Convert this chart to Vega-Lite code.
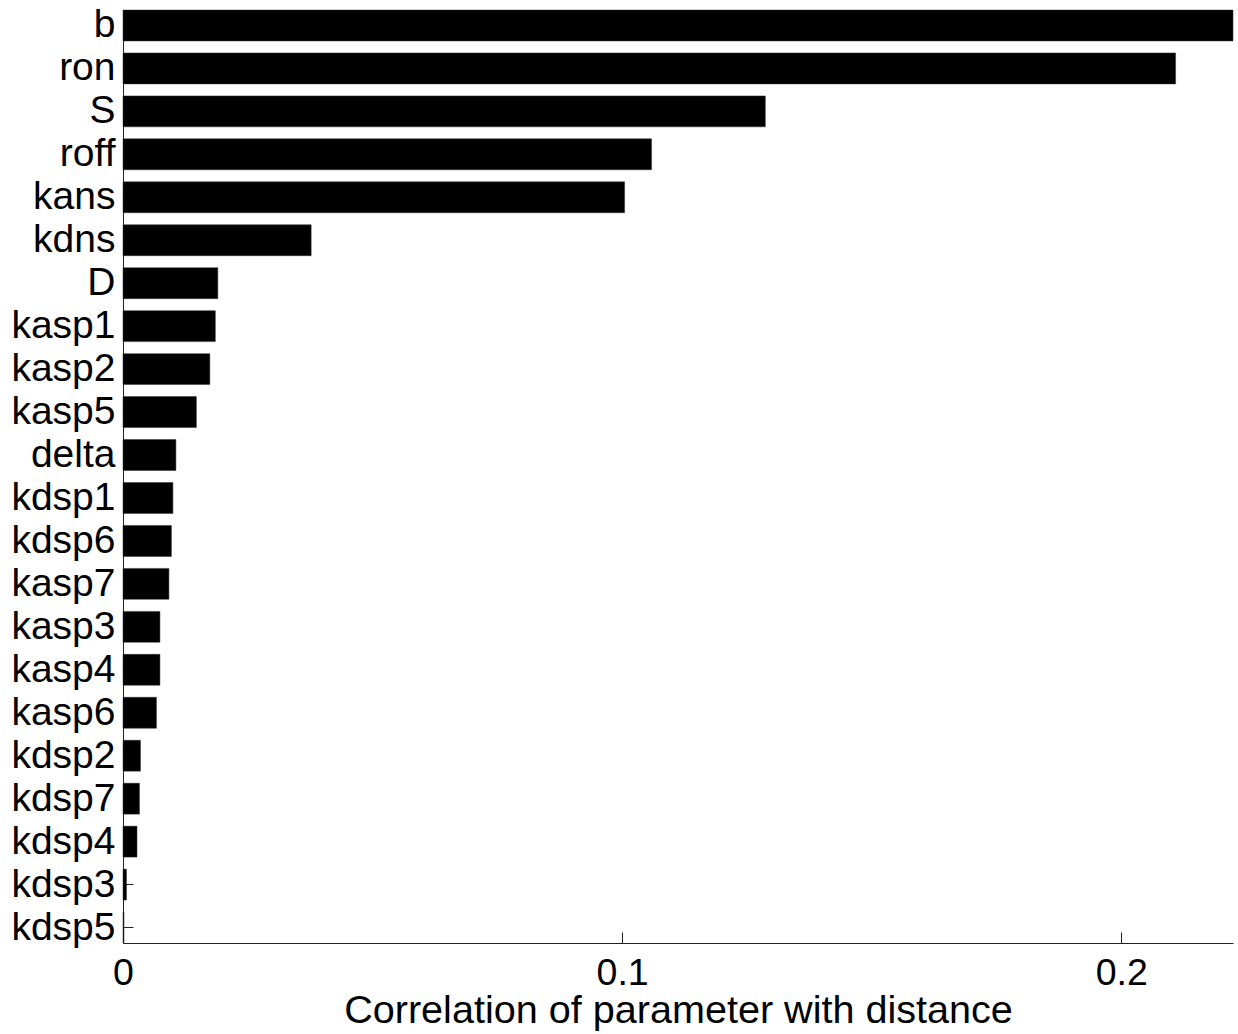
{
  "$schema": "https://vega.github.io/schema/vega-lite/v6.json",
  "width": 1110,
  "height": 933,
  "autosize": {"type": "none"},
  "padding": {"left": 123, "top": 10, "right": 5, "bottom": 91},
  "background": "white",
  "config": {
    "view": {"stroke": null},
    "font": "Liberation Sans",
    "axis": {
      "domainColor": "#222222",
      "tickColor": "#222222",
      "labelColor": "black",
      "titleColor": "black",
      "labelFont": "Liberation Sans",
      "titleFont": "Liberation Sans",
      "labelFontSize": 39,
      "titleFontSize": 39.6,
      "titleFontWeight": "normal",
      "grid": false
    }
  },
  "data": {
    "values": [
      {"parameter": "b", "corr": 0.2224},
      {"parameter": "ron", "corr": 0.2109},
      {"parameter": "S", "corr": 0.1287},
      {"parameter": "roff", "corr": 0.1059},
      {"parameter": "kans", "corr": 0.1005},
      {"parameter": "kdns", "corr": 0.0377},
      {"parameter": "D", "corr": 0.0190},
      {"parameter": "kasp1", "corr": 0.0185},
      {"parameter": "kasp2", "corr": 0.0174},
      {"parameter": "kasp5", "corr": 0.0147},
      {"parameter": "delta", "corr": 0.0106},
      {"parameter": "kdsp1", "corr": 0.0100},
      {"parameter": "kdsp6", "corr": 0.0097},
      {"parameter": "kasp7", "corr": 0.0092},
      {"parameter": "kasp3", "corr": 0.0074},
      {"parameter": "kasp4", "corr": 0.0074},
      {"parameter": "kasp6", "corr": 0.0067},
      {"parameter": "kdsp2", "corr": 0.0035},
      {"parameter": "kdsp7", "corr": 0.0033},
      {"parameter": "kdsp4", "corr": 0.0028},
      {"parameter": "kdsp3", "corr": 0.0007},
      {"parameter": "kdsp5", "corr": 0.0002}
    ]
  },
  "mark": {"type": "bar", "color": "black", "stroke": "#333333", "strokeWidth": 0.5},
  "encoding": {
    "y": {
      "field": "parameter",
      "type": "nominal",
      "sort": null,
      "scale": {"paddingInner": 0.28, "paddingOuter": 0},
      "axis": {
        "title": null,
        "tickSize": -10,
        "labelPadding": 18,
        "domainWidth": 1,
        "tickWidth": 1
      }
    },
    "x": {
      "field": "corr",
      "type": "quantitative",
      "scale": {"domain": [0, 0.2224], "nice": false, "zero": true},
      "axis": {
        "title": "Correlation of parameter with distance",
        "values": [0, 0.1, 0.2],
        "format": "~g",
        "labelFontSize": 37.5,
        "tickSize": -11,
        "labelPadding": 22,
        "titlePadding": 0,
        "domainWidth": 1,
        "tickWidth": 1,
        "labelFlush": false
      }
    }
  }
}
